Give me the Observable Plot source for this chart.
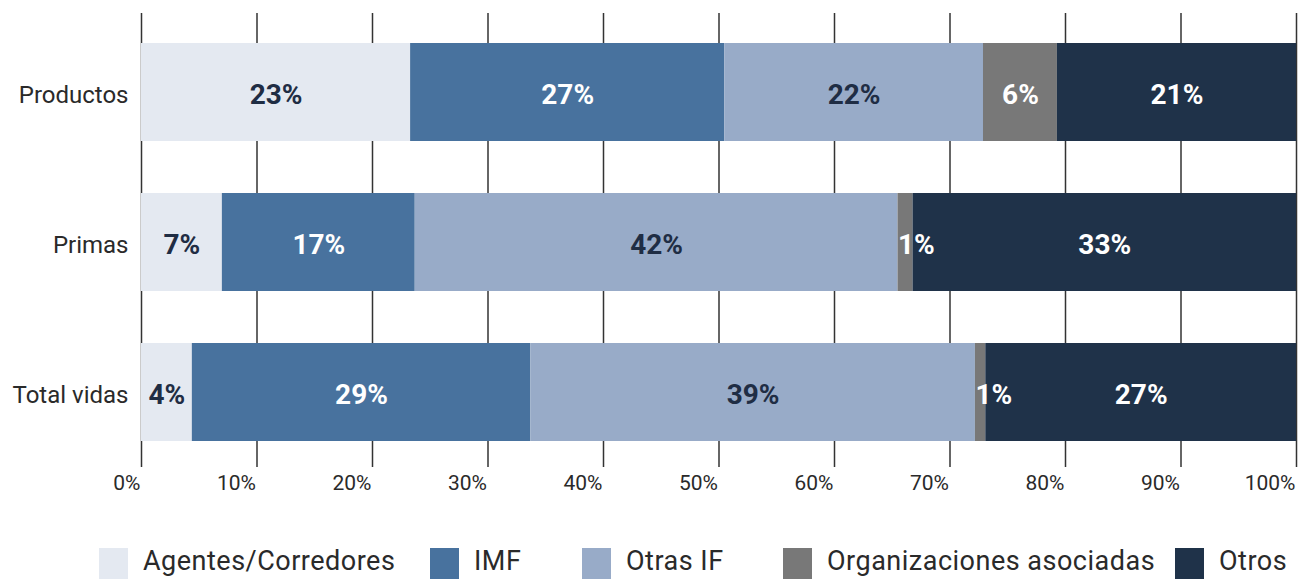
<!DOCTYPE html>
<html>
<head>
<meta charset="utf-8">
<script src="https://cdn.jsdelivr.net/npm/d3@7"></script>
<script src="https://cdn.jsdelivr.net/npm/@observablehq/plot@0.6"></script>
<style>
  html, body { margin: 0; padding: 0; background: #fff; }
  #wrap { position: relative; width: 1298px; height: 579px; overflow: hidden; font-family: Roboto, "Noto Sans", sans-serif; }
  #chart { position: absolute; left: 0; top: 0; }
  .lg-item { position: absolute; top: 546px; height: 33px; display: flex; align-items: flex-start; }
  .lg-sw { width: 29px; height: 31px; margin-top: 2px; flex: none; }
  .lg-tx { font-size: 27px; letter-spacing: 0.5px; color: #2a2a2a; line-height: 27px; margin-left: 15px; margin-top: 2px; white-space: nowrap; }
</style>
</head>
<body>
<div id="wrap">
  <div id="chart"></div>
  <div id="legend"></div>
</div>
<script>
// ---- Data ----
const categories = ["Productos", "Primas", "Total vidas"];
const series = ["Agentes/Corredores", "IMF", "Otras IF", "Organizaciones asociadas", "Otros"];
const seriesColors = ["#e4e9f1", "#48729e", "#98abc8", "#787878", "#1f3249"];
const productosValues = [23.3, 27.2, 22.4, 6.4, 20.7];
const primasValues = [7.0, 16.7, 41.8, 1.3, 33.2];
const totalVidasValues = [4.4, 29.3, 38.5, 0.9, 26.9];
const productosLabels = ["23%", "27%", "22%", "6%", "21%"];
const primasLabels = ["7%", "17%", "42%", "1%", "33%"];
const totalVidasLabels = ["4%", "29%", "39%", "1%", "27%"];
const xTicks = [0, 10, 20, 30, 40, 50, 60, 70, 80, 90, 100];
const xTickLabels = ["0%", "10%", "20%", "30%", "40%", "50%", "60%", "70%", "80%", "90%", "100%"];

// ---- Table ----
const valuesByCat = [productosValues, primasValues, totalVidasValues];
const labelsByCat = [productosLabels, primasLabels, totalVidasLabels];
const rows = [];
categories.forEach((c, i) => {
  series.forEach((s, j) => {
    rows.push({cat: c, series: s, value: valuesByCat[i][j], label: labelsByCat[i][j]});
  });
});
const darkText = new Set(["Agentes/Corredores", "Otras IF"]);
const smallValue = 3;

const chart = Plot.plot({
  width: 1298,
  height: 500,
  marginTop: 13,
  marginBottom: 33,
  marginLeft: 141,
  marginRight: 2,
  style: {fontFamily: "Roboto, 'Noto Sans', sans-serif", fontSize: "20px", color: "#2a2a2a", background: "transparent"},
  x: {domain: [0, 100]},
  y: {domain: categories, paddingInner: 0.3445, paddingOuter: 0.185, align: 0.53},
  color: {domain: series, range: seriesColors},
  marks: [
    Plot.gridX(xTicks, {stroke: "#333", strokeOpacity: 1, strokeWidth: 1.5}),
    Plot.barX(rows, Plot.stackX({x: "value", y: "cat", fill: "series", order: null})),
    Plot.text(rows, Plot.stackX({
      x: "value", y: "cat", order: null, dy: 3,
      text: d => (d.value >= smallValue && darkText.has(d.series)) ? d.label : null,
      fill: "#1f2d44", fontSize: 28, fontWeight: "bold", textAnchor: "middle"
    })),
    Plot.text(rows, Plot.stackX({
      x: "value", y: "cat", order: null, dy: 3,
      text: d => (d.value >= smallValue && !darkText.has(d.series)) ? d.label : null,
      fill: "white", fontSize: 28, fontWeight: "bold", textAnchor: "middle"
    })),
    Plot.text(rows, Plot.stackX1({
      x: "value", y: "cat", order: null, dy: 3,
      text: d => (d.value < smallValue) ? d.label : null,
      fill: "white", fontSize: 28, fontWeight: "bold", textAnchor: "start"
    })),
    Plot.axisX(xTicks, {
      tickSize: 0, tickPadding: 8, textAnchor: "end", dx: -1,
      tickFormat: d => xTickLabels[xTicks.indexOf(d)],
      fontSize: 21, fill: "#2a2a2a", label: null
    }),
    Plot.axisY({tickSize: 0, tickPadding: 13, dy: 3, fontSize: 24, fill: "#2a2a2a", label: null})
  ]
});
document.getElementById("chart").appendChild(chart);

// ---- Legend ----
const legendLefts = [99, 430, 582, 783, 1175];
const legend = document.getElementById("legend");
series.forEach((s, i) => {
  const item = document.createElement("div");
  item.className = "lg-item";
  item.style.left = legendLefts[i] + "px";
  const sw = document.createElement("div");
  sw.className = "lg-sw";
  sw.style.background = seriesColors[i];
  const tx = document.createElement("div");
  tx.className = "lg-tx";
  tx.textContent = s;
  item.appendChild(sw);
  item.appendChild(tx);
  legend.appendChild(item);
});
</script>
</body>
</html>
